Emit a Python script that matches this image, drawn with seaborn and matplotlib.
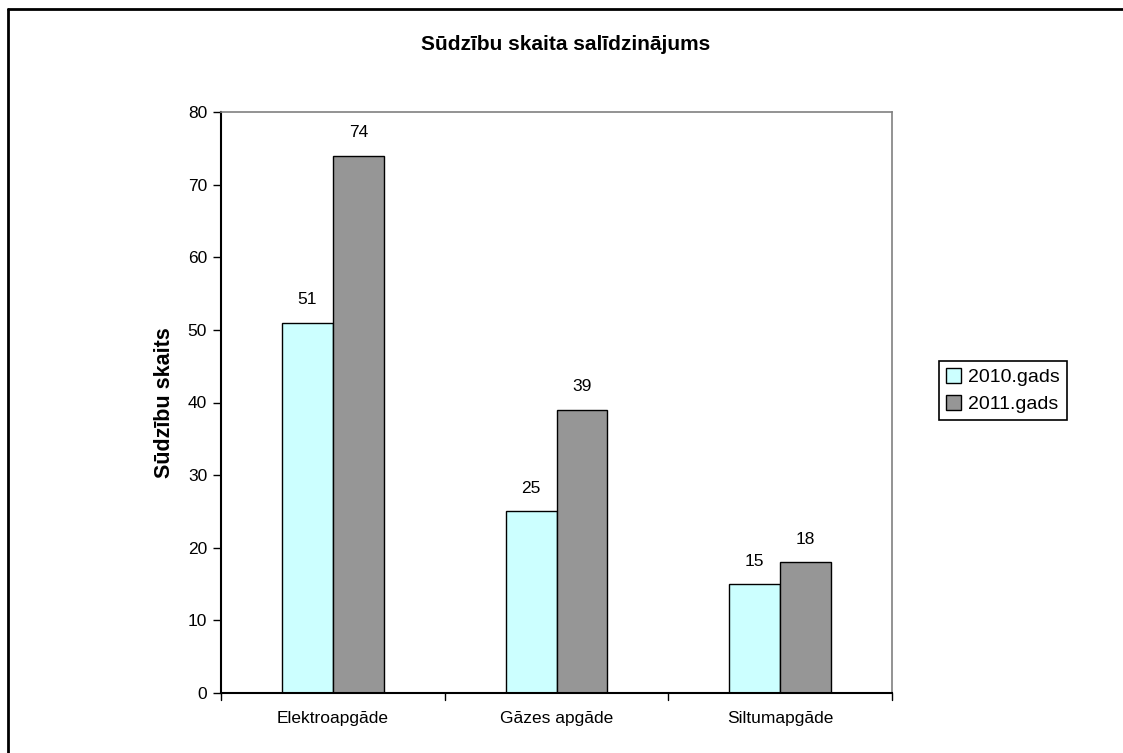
import pandas as pd
import matplotlib
matplotlib.use("Agg")
import matplotlib.pyplot as plt
import matplotlib.patches as mpatches
import matplotlib.lines as mlines
import seaborn as sns

# dati
kategorijas = ["Elektroapgāde", "Gāzes apgāde", "Siltumapgāde"]
gadi = ["2010.gads", "2011.gads"]
vertibas_2010 = [51, 25, 15]
vertibas_2011 = [74, 39, 18]
krasas = ["#CCFFFF", "#969696"]

df = pd.DataFrame({
    "kategorija": kategorijas * 2,
    "gads": [gadi[0]] * 3 + [gadi[1]] * 3,
    "skaits": vertibas_2010 + vertibas_2011,
})

sns.set_style("white")
plt.rcParams["font.family"] = ["Liberation Sans", "DejaVu Sans"]
plt.rcParams["text.color"] = "black"
plt.rcParams["axes.labelcolor"] = "black"
plt.rcParams["xtick.color"] = "black"
plt.rcParams["ytick.color"] = "black"

W, H = 1123, 753
fig = plt.figure(figsize=(W / 100, H / 100), dpi=100)
ax = fig.add_axes([221 / W, 1 - 693 / H, 671 / W, 581 / H])

sns.barplot(data=df, x="kategorija", y="skaits", hue="gads", palette=krasas,
            width=0.456, gap=0, edgecolor="black", linewidth=1, ax=ax,
            saturation=1, legend=True)

for cont in ax.containers:
    ax.bar_label(cont, padding=11, fontsize=12.5, color="black")

ax.set_ylim(0, 80)
ax.set_xlim(-0.5, 2.5)
ax.set_yticks(range(0, 81, 10))
ax.set_xticks([0, 1, 2])
ax.set_xticklabels(kategorijas, fontsize=12.5)
ax.tick_params(axis="y", labelsize=12.5, length=6, width=1, direction="out", left=True, pad=4)
ax.tick_params(axis="x", length=0, pad=13)
# iedaļas starp kategorijām
for xb in [-0.5, 0.5, 1.5, 2.5]:
    ax.plot([xb, xb], [0, -1.0], color="black", lw=1, clip_on=False)

ax.set_xlabel("")
ax.set_ylabel("Sūdzību skaits", fontsize=15.5, fontweight="bold", labelpad=9)

for s in ["left", "bottom"]:
    ax.spines[s].set_color("black")
    ax.spines[s].set_linewidth(1.5)
for s in ["top", "right"]:
    ax.spines[s].set_color("#808080")
    ax.spines[s].set_linewidth(1.2)

fig.text(565.5 / W, 1 - 45 / H, "Sūdzību skaita salīdzinājums", ha="center", va="center",
         fontsize=15, fontweight="bold")

handles = [mpatches.Patch(facecolor=c, edgecolor="black", label=g) for c, g in zip(krasas, gadi)]
leg = ax.legend(handles=handles, loc="center left", bbox_to_anchor=(939 / W, 1 - 390.5 / H),
                bbox_transform=fig.transFigure, fancybox=False, edgecolor="black",
                fontsize=14, handlelength=0.8, handleheight=0.8, handletextpad=0.35,
                borderpad=0.35, labelspacing=0.45, framealpha=1, borderaxespad=0)
leg.get_frame().set_linewidth(1.2)

# attēla rāmis (augša un kreisā mala)
fig.add_artist(mlines.Line2D([8 / W, 1], [1 - 9 / H, 1 - 9 / H], color="black", lw=2,
                             transform=fig.transFigure))
fig.add_artist(mlines.Line2D([8 / W, 8 / W], [0, 1 - 9 / H], color="black", lw=2,
                             transform=fig.transFigure))

fig.savefig("out.png", dpi=100)
